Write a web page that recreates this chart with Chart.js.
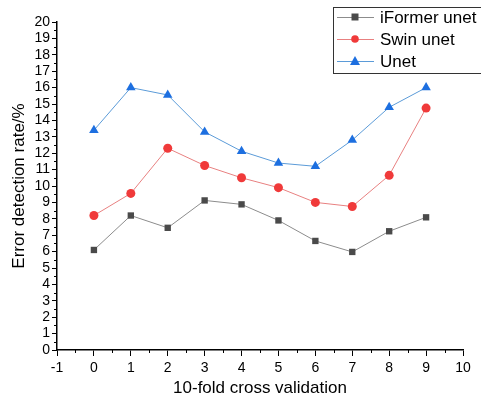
<!DOCTYPE html>
<html>
<head>
<meta charset="utf-8">
<script src="https://cdn.jsdelivr.net/npm/chart.js@4.4.0/dist/chart.umd.min.js"></script>
<style>
  html, body { margin: 0; padding: 0; background: #fff; }
  #wrap { width: 481px; height: 403px; }
</style>
</head>
<body>
<div id="wrap"><canvas id="myChart" width="481" height="403"></canvas></div>
<script>
    const folds = [0, 1, 2, 3, 4, 5, 6, 7, 8, 9];
    const iformerUnet = [6.1, 8.2, 7.45, 9.12, 8.88, 7.9, 6.65, 5.98, 7.24, 8.09];
    const swinUnet = [8.2, 9.55, 12.3, 11.25, 10.5, 9.9, 9.0, 8.75, 10.65, 14.75];
    const unet = [13.4, 16.0, 15.55, 13.3, 12.12, 11.4, 11.2, 12.8, 14.8, 16.0];
    const xTicks = [-1, 0, 1, 2, 3, 4, 5, 6, 7, 8, 9, 10];
    const yTicks = [0, 1, 2, 3, 4, 5, 6, 7, 8, 9, 10, 11, 12, 13, 14, 15, 16, 17, 18, 19, 20];

    const font = "'Liberation Sans', Arial, sans-serif";

    function toPoints(values) {
        return folds.map((f, i) => ({ x: f, y: values[i] }));
    }

    // minor ticks halfway between majors, plus the legend box
    const extras = {
        id: 'extras',
        afterDraw(chart) {
            const c = chart.ctx;
            const xs = chart.scales.x, ys = chart.scales.y;
            c.save();
            c.strokeStyle = '#000';
            c.lineWidth = 1;
            c.beginPath();
            for (let i = 0; i < xTicks.length - 1; i++) {
                const px = Math.round(xs.getPixelForValue(xTicks[i] + 0.5)) + 0.5;
                c.moveTo(px, ys.bottom);
                c.lineTo(px, ys.bottom + 3);
            }
            for (let i = 0; i < yTicks.length - 1; i++) {
                const py = Math.round(ys.getPixelForValue(yTicks[i] + 0.5)) + 0.5;
                c.moveTo(xs.left, py);
                c.lineTo(xs.left - 3, py);
            }
            c.stroke();

            // legend (its right edge runs off the canvas, as in the original)
            c.strokeStyle = '#333';
            c.lineWidth = 1;
            c.strokeRect(333.5, 7.5, 160, 66);
            c.font = '17px ' + font;
            c.textBaseline = 'middle';
            c.fillStyle = '#000';
            chart.data.datasets.forEach((ds, i) => {
                const y = 17 + i * 22;
                c.strokeStyle = ds.borderColor;
                c.lineWidth = 1;
                c.beginPath();
                c.moveTo(337, y + 0.5);
                c.lineTo(374, y + 0.5);
                c.stroke();
                c.fillStyle = ds.pointBackgroundColor;
                c.beginPath();
                if (ds.pointStyle === 'rect') {
                    c.rect(351.5, y - 3.5, 7, 7);
                } else if (ds.pointStyle === 'circle') {
                    c.arc(355, y, 3.8, 0, Math.PI * 2);
                } else {
                    c.moveTo(355, y - 5);
                    c.lineTo(360, y + 4);
                    c.lineTo(350, y + 4);
                    c.closePath();
                }
                c.fill();
                c.fillStyle = '#000';
                c.fillText(ds.label, 380, y + 1);
            });
            c.restore();
        }
    };

    const ctx = document.getElementById('myChart').getContext('2d');
    const myChart = new Chart(ctx, {
        type: 'line',
        data: {
            datasets: [{
                label: 'iFormer unet',
                data: toPoints(iformerUnet),
                borderColor: '#8c8c8c',
                borderWidth: 1,
                pointStyle: 'rect',
                pointRadius: 4.5,
                pointBackgroundColor: '#4a4a4a',
                pointBorderColor: '#4a4a4a',
                pointBorderWidth: 0
            }, {
                label: 'Swin unet',
                data: toPoints(swinUnet),
                borderColor: '#e88080',
                borderWidth: 1,
                pointStyle: 'circle',
                pointRadius: 4.5,
                pointBackgroundColor: '#f03a3a',
                pointBorderColor: '#f03a3a',
                pointBorderWidth: 0
            }, {
                label: 'Unet',
                data: toPoints(unet),
                borderColor: '#5b9bd8',
                borderWidth: 1,
                pointStyle: 'triangle',
                pointRadius: 5.5,
                pointBackgroundColor: '#1d6fe0',
                pointBorderColor: '#1d6fe0',
                pointBorderWidth: 0
            }]
        },
        options: {
            responsive: false,
            animation: false,
            layout: { padding: { top: 22, right: 18, left: 5, bottom: 0 } },
            plugins: { legend: { display: false }, tooltip: { enabled: false } },
            scales: {
                x: {
                    type: 'linear',
                    min: -1,
                    max: 10,
                    afterBuildTicks: s => { s.ticks = xTicks.map(v => ({ value: v })); },
                    afterFit: s => { s.height = 53; },
                    grid: { drawOnChartArea: false, tickLength: 6, color: '#000', tickWidth: 1 },
                    border: { color: '#000', width: 1.5 },
                    ticks: { color: '#000', autoSkip: false, font: { family: font, size: 14 }, padding: 4, maxRotation: 0 },
                    title: { display: true, text: '10-fold cross validation', color: '#000', font: { family: font, size: 17 }, padding: { top: 3 } }
                },
                y: {
                    min: 0,
                    max: 20,
                    afterBuildTicks: s => { s.ticks = yTicks.map(v => ({ value: v })); },
                    afterFit: s => { s.width = 52; },
                    grid: { drawOnChartArea: false, tickLength: 5, color: '#000', tickWidth: 1 },
                    border: { color: '#000', width: 1.5 },
                    ticks: { color: '#000', autoSkip: false, font: { family: font, size: 14 }, padding: 2 },
                    title: { display: true, text: 'Error detection rate/%', color: '#000', font: { family: font, size: 17 }, padding: { bottom: 0 } }
                }
            }
        },
        plugins: [extras]
    });
</script>
</body>
</html>
